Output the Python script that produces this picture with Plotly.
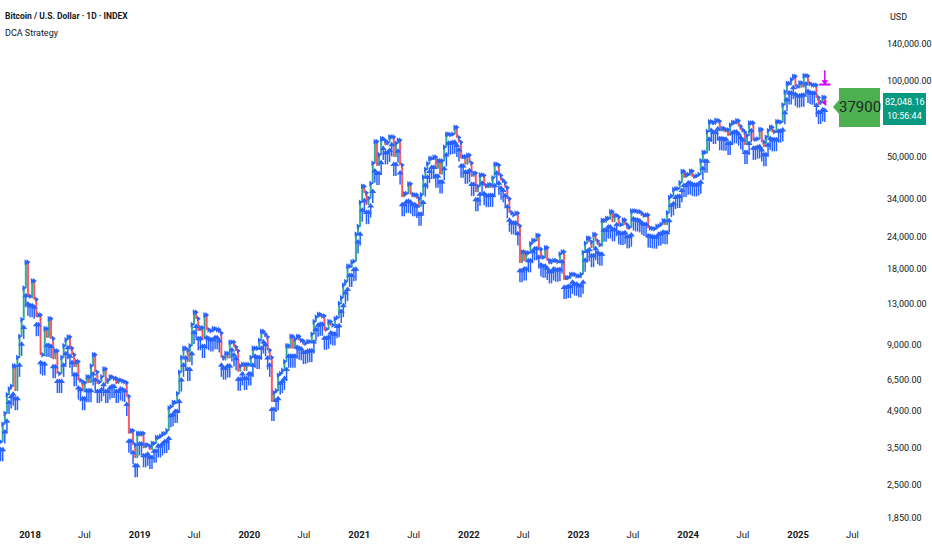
import pandas as pd
import plotly.graph_objects as go

# weekly closes (USD), grouped by year
close_2017 = [3700, 4350, 4800, 5700, 6000, 6150, 7400, 5900, 8000, 9700, 11300, 15100, 19100, 14000, 13800]
close_2018 = [16100, 13600, 11600, 11800, 8200,
              8100, 10400, 9600, 11400,
              9500, 7900, 8500, 6900,
              6900, 8000, 8900, 9400, 9650,
              8700, 8200, 7350, 7700,
              6500, 6400, 5900, 6350,
              6700, 6350, 7400, 8200, 7000,
              6300, 6400, 6700, 7200,
              6300, 6500, 6700, 6600,
              6600, 6300, 6500, 6450, 6400,
              6350, 5600, 4000, 4100,
              3600, 3200, 4000, 3900, 4000]
close_2019 = [3500, 3600, 3550, 3450,
              3650, 3650, 3850, 3830,
              3900, 3980, 3990, 4100,
              5050, 5100, 5300, 5250, 5750,
              7000, 8000, 8700, 8550,
              7700, 8900, 10800, 12100,
              11400, 10200, 10500, 9500, 11800,
              10300, 10200, 10100, 10400,
              10300, 10300, 10000, 8000, 7800,
              8300, 7950, 9200, 9200,
              8800, 8500, 7050, 7400,
              7500, 7100, 7500, 7400, 8000]
close_2020 = [8700, 8700, 8600, 9350,
              10150, 9900, 9650, 8550,
              8000, 5350, 5800, 5900, 6800,
              6900, 7100, 7700, 8900,
              8700, 9700, 8700, 9450,
              9700, 9350, 9300, 9000, 9100,
              9250, 9150, 9900, 11100,
              11550, 11850, 11650, 11700, 10250,
              10350, 11100, 10750, 10650,
              11400, 11500, 13100, 13800,
              15500, 16000, 18400, 18200, 19150,
              19250, 24700, 26500, 33000]
close_2021 = [38200, 36000, 32300, 34300,
              39200, 47200, 57500, 46200,
              51000, 59000, 58000, 55800, 57000,
              60000, 60000, 50100, 56600,
              58200, 46400, 34700, 35700, 35800,
              39100, 35500, 34700, 35300,
              34200, 31800, 35400, 41500,
              44600, 47000, 49300, 48800, 49900,
              45000, 48300, 42700, 48200,
              54700, 61500, 60900, 61300,
              61500, 65500, 59700, 57200, 49400,
              50100, 46700, 50800, 47300]
close_2022 = [41800, 43100, 36300, 38200, 42400,
              42200, 38400, 37700, 38800,
              37800, 41300, 46800, 46400,
              42200, 40400, 39500, 37700,
              34100, 30100, 29400, 29400, 29900,
              26600, 19000, 21000, 19300,
              20800, 20800, 22600, 23300,
              23200, 24400, 21500, 20000, 19800,
              21800, 19400, 18800, 19300,
              19400, 19100, 19200, 20600, 21000,
              16300, 16600, 16450, 17100,
              17100, 16800, 16850, 16550]
close_2023 = [17100, 20900, 22700, 23800, 23000,
              21800, 24600, 23200, 22400,
              22100, 28000, 27500, 28500,
              28300, 30300, 27600, 29300,
              28900, 26900, 26700, 28100, 26900,
              25900, 26300, 30500, 30500,
              30200, 30300, 29900, 29300, 29000,
              29400, 26100, 26000, 25900,
              25800, 26500, 26600, 27000,
              27900, 26900, 30000, 34500, 35000,
              37100, 37400, 37400, 39500,
              43800, 41400, 42600, 42300]
close_2024 = [43900, 41800, 41600, 42000, 42600,
              48300, 52100, 51700, 63100,
              68900, 68400, 67200, 69700,
              69300, 63400, 64900, 63100, 64000,
              60800, 66900, 68500, 67500,
              69600, 66200, 64000, 62700,
              55900, 60800, 68200, 68200, 58100,
              58700, 58900, 64200, 57300,
              54800, 59900, 63600, 65600, 62800,
              62900, 69000, 68000, 68700,
              80400, 90600, 97900, 96400,
              101200, 104400, 95200, 93700, 98300]
close_2025 = [94500, 105000, 104700, 97700,
              96500, 96100, 96300, 86000,
              80700, 82600, 86100, 82048.16]

last_date = "2025-03-31"
sell_dates = ["2025-03-31"]
strategy_label = "37900"
clock_text = "10:56:44"

y_ticks = [1850, 2500, 3500, 4900, 6500, 9000, 13000, 18000, 24000, 34000, 50000, 100000, 140000]
x_tick_dates = ["2018-01-01", "2018-07-01", "2019-01-01", "2019-07-01", "2020-01-01", "2020-07-01",
                "2021-01-01", "2021-07-01", "2022-01-01", "2022-07-01", "2023-01-01", "2023-07-01",
                "2024-01-01", "2024-07-01", "2025-01-01", "2025-07-01"]
x_tick_labels = ["<b>2018</b>", "Jul", "<b>2019</b>", "Jul", "<b>2020</b>", "Jul", "<b>2021</b>", "Jul",
                 "<b>2022</b>", "Jul", "<b>2023</b>", "Jul", "<b>2024</b>", "Jul", "<b>2025</b>", "Jul"]

closes = close_2017 + close_2018 + close_2019 + close_2020 + close_2021 + close_2022 + close_2023 + close_2024 + close_2025
dates = pd.date_range(end=last_date, periods=len(closes), freq="7D")
opens = [closes[0]] + closes[:-1]
highs = [max(o, c) for o, c in zip(opens, closes)]
lows = [min(o, c) for o, c in zip(opens, closes)]

BLUE = "#2962FF"
MAGENTA = "#D500F9"
FONT = "Roboto, Liberation Sans, sans-serif"
TEXT = "#131722"

W, H = 932, 550
PW, PH = 881, 522  # plot area in px


def px(x):
    return x / PW


def py(y):
    return 1 - y / PH


def note(x, y, text, size=9, color=TEXT, anchor="center", **kw):
    fig.add_annotation(x=px(x), y=py(y), xref="paper", yref="paper", text=text,
                       xanchor=anchor, yanchor="middle", showarrow=False,
                       font=dict(family=FONT, size=size, color=color, **kw))


fig = go.Figure()

fig.add_trace(go.Candlestick(
    x=dates, open=opens, high=highs, low=lows, close=closes,
    increasing=dict(line=dict(color="rgba(8,153,129,0.7)", width=1), fillcolor="rgba(8,153,129,0.7)"),
    decreasing=dict(line=dict(color="rgba(242,54,69,0.7)", width=1), fillcolor="rgba(242,54,69,0.7)"),
    whiskerwidth=0, hoverinfo="skip"
))

# DCA buy arrows below the bars
fig.add_trace(go.Scatter(
    x=dates, y=[l * 0.93 for l in lows], mode="markers",
    marker=dict(symbol="triangle-up", size=6, color=BLUE),
    error_y=dict(type="percent", symmetric=False, value=0, valueminus=10,
                 thickness=1.5, width=0, color=BLUE),
    hoverinfo="skip"
))

# order flags at price
fig.add_trace(go.Scatter(
    x=dates, y=highs, mode="markers",
    marker=dict(symbol="triangle-right", size=5, color=BLUE),
    hoverinfo="skip"
))

# exit marker: arrow pointing down onto a bar
sell_x = pd.to_datetime(sell_dates)
fig.add_trace(go.Scatter(
    x=sell_x, y=[closes[-1] * 1.27], mode="markers",
    marker=dict(symbol="line-ns", size=9, line=dict(color=MAGENTA, width=1.5)),
    hoverinfo="skip"
))
fig.add_trace(go.Scatter(
    x=sell_x, y=[closes[-1] * 1.21], mode="markers",
    marker=dict(symbol="triangle-down", size=6, color=MAGENTA),
    hoverinfo="skip"
))
fig.add_trace(go.Scatter(
    x=sell_x, y=[closes[-1] * 1.18], mode="markers",
    marker=dict(symbol="line-ew", size=8, line=dict(color=MAGENTA, width=2)),
    hoverinfo="skip"
))
fig.add_trace(go.Scatter(
    x=sell_x, y=[closes[-1]], mode="markers",
    marker=dict(symbol="triangle-left", size=6, color=MAGENTA),
    hoverinfo="skip"
))

# green label with left pointer
lbl = ("M {} {} L {} {} L {} {} L {} {} L {} {} L {} {} L {} {} Z").format(
    px(833), py(107), px(839), py(100), px(839), py(88),
    px(880), py(88), px(880), py(127), px(839), py(127), px(839), py(114))
fig.add_shape(type="path", path=lbl, xref="paper", yref="paper",
              fillcolor="#4CAF50", line=dict(color="#4CAF50", width=0))
note(860, 107, strategy_label, size=15, color="#1E2A1E")

# last price badge
fig.add_shape(type="rect", xref="paper", yref="paper",
              x0=px(883), x1=px(926), y0=py(93), y1=py(125),
              fillcolor="#089981", line=dict(width=0))
note(904.5, 102, f"{closes[-1]:,.2f}", color="white")
note(904.5, 116, clock_text, color="white")

note(888, 17, "USD", anchor="left")
note(3, 16, "Bitcoin / U.S. Dollar · 1D · INDEX", size=8.5, anchor="left", weight="bold")
note(3, 33, "DCA Strategy", anchor="left")

fig.update_layout(
    width=W, height=H,
    margin=dict(l=0, r=W - PW, t=0, b=H - PH, autoexpand=False),
    paper_bgcolor="white", plot_bgcolor="white",
    showlegend=False,
    font=dict(family=FONT, size=9, color=TEXT),
    xaxis=dict(
        type="date", range=["2017-09-23", "2025-10-04"],
        tickvals=x_tick_dates, ticktext=x_tick_labels,
        showgrid=False, zeroline=False, showline=False, ticks="",
        rangeslider=dict(visible=False), automargin=False, ticklabelstandoff=5,
        tickfont=dict(family=FONT, size=9.5, color=TEXT),
    ),
    yaxis=dict(
        type="log", side="right", range=[3.25, 5.3214],
        tickvals=y_ticks, ticktext=[f"{v:,.2f}" for v in y_ticks],
        showgrid=False, zeroline=False, showline=False, ticks="",
        automargin=False, ticklabelstandoff=5,
        tickfont=dict(family=FONT, size=9, color=TEXT),
    ),
)

fig.write_html("out.html", config={"displayModeBar": False},
               post_script="document.body.style.margin='0';")
